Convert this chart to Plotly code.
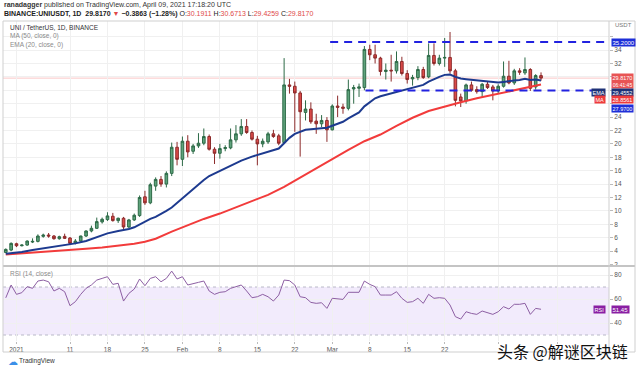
import plotly.graph_objects as go
import pandas as pd

# ---------------- data ----------------
dates = pd.date_range("2020-12-30", "2021-04-09", freq="D")

opens = [3.8, 4.15, 5.1, 4.8, 4.9, 5.35, 5.45, 6.2, 6.4, 6.25,
         5.85, 6.2, 5.95, 5.2, 5.5, 6.25, 7.0, 7.4, 8.35, 8.7,
         9.2, 8.55, 8.9, 7.6, 8.65, 9.3, 12.1, 11.2, 13.7, 14.7,
         14.0, 15.6, 19.5, 17.7, 20.4, 18.9, 19.7, 20.1, 21.1, 19.2,
         18.6, 19.3, 19.4, 20.6, 21.5, 22.6, 21.7, 20.7, 20.0, 20.3,
         21.5, 21.2, 20.2, 28.8, 28.6, 27.6, 24.7, 25.2, 23.4, 23.0,
         23.5, 22.1, 25.65, 25.5, 25.3, 28.2, 28.3, 28.4, 34.1, 33.3,
         32.8, 30.8, 31.0, 30.9, 32.3, 30.5, 29.7, 29.9, 31.1, 30.0,
         33.2, 32.0, 32.8, 32.9, 30.9, 27.0, 26.4, 28.8, 28.1, 27.8,
         28.9, 28.5, 27.9, 28.6, 30.1, 29.1, 30.9, 30.6, 31.1, 28.5,
         30.1911]
highs = [4.4, 5.3, 5.25, 5.0, 5.6, 5.9, 6.5, 6.6, 6.7, 6.4,
         6.3, 6.6, 6.1, 5.8, 6.3, 7.1, 7.8, 9.0, 9.0, 9.8,
         9.7, 9.0, 9.1, 8.8, 9.6, 12.3, 13.0, 14.2, 15.0, 15.2,
         15.9, 20.2, 20.3, 21.1, 21.3, 20.0, 21.6, 22.3, 21.4, 19.5,
         20.0, 19.8, 22.3, 22.8, 23.7, 23.7, 22.0, 21.2, 20.8, 21.8,
         22.1, 21.5, 32.8, 29.7, 29.3, 27.9, 26.5, 26.2, 24.5, 24.3,
         24.0, 25.9, 27.2, 26.0, 29.6, 28.8, 29.0, 34.6, 34.8, 34.8,
         33.0, 32.0, 33.3, 33.8, 33.0, 31.0, 30.3, 31.6, 31.5, 35.0,
         35.0, 33.3, 35.8, 36.7, 31.2, 27.5, 29.0, 29.3, 28.6, 29.1,
         29.3, 28.8, 28.9, 32.3, 32.4, 31.2, 31.3, 32.9, 31.3, 30.4,
         30.6713]
lows = [3.7, 4.0, 4.6, 4.7, 4.8, 5.2, 5.3, 6.0, 6.0, 5.7,
        5.7, 5.8, 4.9, 5.0, 5.4, 6.1, 6.8, 7.3, 8.1, 8.5,
        8.4, 8.2, 7.3, 7.4, 8.5, 9.1, 10.9, 11.0, 13.0, 13.6,
        13.5, 15.2, 16.8, 16.7, 18.0, 18.5, 19.4, 19.8, 19.0, 17.0,
        17.8, 18.9, 19.2, 20.2, 21.2, 21.5, 20.5, 16.8, 19.5, 20.0,
        20.9, 19.8, 20.0, 27.5, 21.8, 18.1, 23.5, 23.0, 21.5, 22.5,
        20.3, 22.0, 24.0, 24.5, 25.0, 26.0, 27.0, 28.0, 32.5, 32.0,
        30.2, 29.6, 29.3, 30.5, 30.2, 29.0, 28.7, 29.5, 29.7, 29.8,
        31.7, 31.7, 31.5, 30.5, 25.6, 25.5, 26.0, 27.8, 27.5, 27.0,
        28.2, 26.5, 27.6, 28.4, 28.9, 28.8, 30.3, 30.3, 27.9, 28.1,
        29.4259]
closes = [4.25, 5.15, 4.8, 4.9, 5.5, 5.45, 6.25, 6.4, 6.25, 5.85,
          6.15, 5.9, 5.15, 5.5, 6.25, 7.0, 7.4, 8.4, 8.75, 9.25,
          8.55, 8.9, 7.6, 8.65, 9.35, 12.0, 11.2, 13.9, 14.7, 14.0,
          15.6, 19.5, 17.7, 20.4, 18.8, 19.7, 20.1, 21.1, 19.2, 18.6,
          19.3, 19.45, 20.6, 21.5, 22.6, 21.7, 20.7, 20.0, 20.4, 21.5,
          21.1, 20.1, 28.8, 28.6, 27.6, 24.8, 25.2, 23.3, 23.0, 23.5,
          22.1, 25.65, 25.45, 25.3, 28.1, 28.4, 28.5, 34.1, 33.3, 32.8,
          30.8, 31.0, 30.9, 32.3, 30.5, 29.6, 29.9, 31.1, 29.9, 33.2,
          32.0, 32.8, 32.9, 30.9, 26.5, 26.4, 28.8, 28.0, 27.8, 28.9,
          28.4, 27.9, 28.6, 30.1, 29.1, 30.9, 30.7, 31.1, 28.3, 30.2033,
          29.8170]

ema_dates = ["2020-12-30", "2021-01-02", "2021-01-04", "2021-01-07", "2021-01-09",
             "2021-01-11", "2021-01-12", "2021-01-14", "2021-01-16", "2021-01-18",
             "2021-01-20", "2021-01-21", "2021-01-22", "2021-01-23", "2021-01-24",
             "2021-01-25", "2021-01-26", "2021-01-27", "2021-01-28", "2021-01-29",
             "2021-01-30", "2021-01-31", "2021-02-01", "2021-02-02", "2021-02-03",
             "2021-02-04", "2021-02-05", "2021-02-06", "2021-02-07", "2021-02-08",
             "2021-02-10", "2021-02-12", "2021-02-14", "2021-02-16", "2021-02-18",
             "2021-02-19", "2021-02-20", "2021-02-21", "2021-02-22", "2021-02-23",
             "2021-02-24", "2021-02-25", "2021-02-26", "2021-02-27", "2021-02-28",
             "2021-03-01", "2021-03-02", "2021-03-03", "2021-03-04", "2021-03-05",
             "2021-03-06", "2021-03-07", "2021-03-08", "2021-03-09", "2021-03-10",
             "2021-03-12", "2021-03-14", "2021-03-16", "2021-03-18", "2021-03-19",
             "2021-03-20", "2021-03-21", "2021-03-22", "2021-03-23", "2021-03-24",
             "2021-03-25", "2021-03-26", "2021-03-28", "2021-03-30", "2021-04-01",
             "2021-04-02", "2021-04-03", "2021-04-04", "2021-04-05", "2021-04-06",
             "2021-04-07", "2021-04-08", "2021-04-09"]
ema_vals = [3.6, 3.85, 4.15, 4.5, 4.75,
            5.0, 5.15, 5.5, 6.1, 6.65,
            7.0, 7.1, 7.3, 7.55, 8.0,
            8.4, 8.8, 9.1, 9.5, 10.0,
            10.5, 11.2, 11.9, 12.6, 13.3,
            13.9, 14.6, 15.2, 15.6, 16.0,
            16.8, 17.5, 18.1, 18.6, 19.1,
            19.3, 20.1, 20.9, 21.5, 21.8,
            22.1, 22.2, 22.3, 22.4, 22.4,
            22.7, 23.0, 23.3, 23.8, 24.3,
            24.7, 25.6, 26.2, 26.8, 27.1,
            27.5, 27.9, 28.3, 28.8, 29.3,
            29.7, 30.0, 30.3, 30.35, 30.0,
            29.75, 29.65, 29.45, 29.3, 29.15,
            29.25, 29.3, 29.45, 29.55, 29.7,
            29.55, 29.6, 29.4552]

ma_dates = ["2020-12-30", "2021-01-04", "2021-01-09", "2021-01-14", "2021-01-17",
            "2021-01-20", "2021-01-23", "2021-01-25", "2021-01-27", "2021-01-30",
            "2021-02-02", "2021-02-05", "2021-02-08", "2021-02-11", "2021-02-14",
            "2021-02-17", "2021-02-20", "2021-02-23", "2021-02-26", "2021-03-01",
            "2021-03-04", "2021-03-07", "2021-03-10", "2021-03-13", "2021-03-16",
            "2021-03-19", "2021-03-22", "2021-03-25", "2021-03-28", "2021-03-31",
            "2021-04-03", "2021-04-06", "2021-04-09"]
ma_vals = [3.5, 3.75, 4.05, 4.35, 4.55,
           4.8, 5.1, 5.4, 5.85, 6.9,
           7.9, 8.8, 9.6, 10.5, 11.5,
           12.4, 13.6, 15.0, 16.4, 17.8,
           19.1, 20.4, 21.4, 22.7, 23.9,
           24.9, 25.6, 26.2, 26.8, 27.3,
           27.8, 28.3, 28.8561]

rsi_vals = [61, 71.7, 63.9, 65.3, 70.3, 68.9, 75, 75.8, 74.4, 66.7,
            68.9, 66.1, 54.4, 57.8, 63.9, 68.9, 71.7, 75.8, 77.2, 78.6,
            72.2, 73.1, 58.3, 64.7, 68.3, 76.7, 71.1, 77.2, 78.6, 74.4,
            77.2, 83.3, 76.7, 78.6, 71.7, 73.1, 73.9, 75, 66.7, 63.9,
            65.6, 66.1, 68.9, 70.3, 71.7, 66.7, 61.1, 61.9, 63.9, 61.9,
            58.3, 63.3, 75.8, 75.3, 71.7, 61.9, 61.1, 57.2, 56.4, 56.9,
            52.2, 60.6, 60, 59.7, 65.6, 65.6, 65.6, 75, 72.2, 70.3,
            63.3, 63.3, 63.3, 66.1, 60.6, 57.2, 57.8, 60.6, 56.4, 63.9,
            60.6, 61.1, 60.6, 55, 45.3, 43.3, 49.4, 48, 47.2, 50,
            48.9, 47.2, 49.4, 53.6, 51.7, 55.6, 55.6, 56.4, 47.2, 52.2,
            51.45]

resistance = 35.2
support = 27.97
last_price = 29.817

tick_dates = ["2021-01-01", "2021-01-11", "2021-01-18", "2021-01-25", "2021-02-01",
              "2021-02-08", "2021-02-15", "2021-02-22", "2021-03-01", "2021-03-08",
              "2021-03-15", "2021-03-22", "2021-04-01", "2021-04-12"]
tick_text = ["2021", "11", "18", "25", "Feb", "8", "15", "22", "Mar", "8", "15", "22", "", ""]
price_ticks = [2, 4, 6, 8, 10, 12, 14, 16, 18, 20, 22, 24, 26, 28, 30, 32, 34, 36]
price_tick_text = ["2", "4", "6", "8", "10", "12", "14", "16", "18", "20", "22", "24",
                   "", "", "", "32", "34", ""]
rsi_ticks = [40, 60, 80]

# ---------------- geometry helpers ----------------
W, H = 640, 369
ML, MR, MT, MB = 3, 31, 21, 28
PW, PH = W - ML - MR, H - MT - MB


def px(x):
    return (x - ML) / PW


def py(y):
    return (H - MB - y) / PH


base = pd.Timestamp("2020-12-30")


def day(d):
    return base + pd.Timedelta(days=d)


FONT = "Liberation Sans, Arial, sans-serif"

fig = go.Figure()
fig.add_trace(go.Candlestick(
    x=dates, open=opens, high=highs, low=lows, close=closes,
    xaxis="x", yaxis="y",
    increasing=dict(line=dict(color="#2d6a47", width=1), fillcolor="#5fa37c"),
    decreasing=dict(line=dict(color="#8c2a2a", width=1), fillcolor="#dc4b49"),
    whiskerwidth=0, hoverinfo="skip", showlegend=False))
fig.add_trace(go.Scatter(x=ma_dates, y=ma_vals, mode="lines", xaxis="x", yaxis="y",
                         line=dict(color="#f23b3b", width=2), hoverinfo="skip", showlegend=False))
fig.add_trace(go.Scatter(x=ema_dates, y=ema_vals, mode="lines", xaxis="x", yaxis="y",
                         line=dict(color="#1d3a8f", width=2), hoverinfo="skip", showlegend=False))
fig.add_trace(go.Scatter(x=dates, y=rsi_vals, mode="lines", xaxis="x", yaxis="y2",
                         line=dict(color="#8d5fa3", width=1), hoverinfo="skip", showlegend=False))

shapes = []
# RSI band
shapes.append(dict(type="rect", xref="paper", yref="y2", x0=0, x1=1, y0=30, y1=70,
                   fillcolor="rgba(150,90,230,0.12)", line=dict(width=0), layer="below"))
for lv in (30, 70):
    shapes.append(dict(type="line", xref="paper", yref="y2", x0=0, x1=1, y0=lv, y1=lv,
                       line=dict(color="#b9b9c8", width=1, dash="dot"), layer="below"))
# last price line
shapes.append(dict(type="line", xref="paper", yref="y", x0=0, x1=1, y0=last_price, y1=last_price,
                   line=dict(color="rgba(240,90,90,0.35)", width=1), layer="below"))
# horizontal levels
shapes.append(dict(type="line", xref="x", yref="y", x0=day(60.6), x1=day(112.5),
                   y0=resistance, y1=resistance, line=dict(color="#2222e0", width=2, dash="8px,6px")))
shapes.append(dict(type="line", xref="x", yref="y", x0=day(67.2), x1=day(110.6),
                   y0=support, y1=support, line=dict(color="#2222e0", width=2, dash="8px,6px")))
# pane separator and frame
shapes.append(dict(type="line", xref="paper", yref="paper", x0=0, x1=px(635), y0=py(266), y1=py(266),
                   line=dict(color="#c4c4c4", width=2)))
shapes.append(dict(type="rect", xref="paper", yref="paper", x0=0, x1=px(635), y0=py(352), y1=py(21),
                   line=dict(color="#cfcfcf", width=1)))
shapes.append(dict(type="line", xref="paper", yref="paper", x0=px(609), x1=px(609), y0=py(352), y1=py(21),
                   line=dict(color="#cfcfcf", width=1)))

ann = []


def text(x, y, s, size=7, color="#333", anchor="left"):
    ann.append(dict(x=px(x), y=py(y), xref="paper", yref="paper", text=s, showarrow=False,
                    xanchor=anchor, yanchor="middle", font=dict(family=FONT, size=size, color=color)))


def box(x, y, s, bg, size=6, anchor="left", color="white"):
    ann.append(dict(x=px(x), y=py(y), xref="paper", yref="paper", text=s, showarrow=False,
                    xanchor=anchor, yanchor="middle", bgcolor=bg, borderpad=0.5,
                    font=dict(family=FONT, size=size, color=color)))


text(2, 5, "<b>ranadagger</b> published on TradingView.com, April 09, 2021 17:18:20 UTC", 7, "#333")
red = "#e04848"
text(2, 14, "<b>BINANCE:UNIUSDT, 1D</b>  <b>29.8170</b> <span style='color:%s'>▼</span> <b>−0.3863 (−1.28%%)</b> "
            "O:<span style='color:%s'>30.1911</span> H:<span style='color:%s'>30.6713</span> "
            "L:<span style='color:%s'>29.4259</span> C:<span style='color:%s'>29.8170</span>"
            % (red, red, red, red, red), 7, "#222")
text(8, 27, "UNI / TetherUS, 1D, BINANCE", 6.5, "#333")
text(8, 36, "MA (50, close, 0)", 6.5, "#8a8a8a")
text(8, 45, "EMA (20, close, 0)", 6.5, "#8a8a8a")
text(8, 274, "RSI (14, close)", 6.5, "#8a8a8a")
text(613, 25, "USDT", 6, "#777")

box(611, 42, "35.2000", "#1e2fd8")
box(611, 80.5, "29.8170<br><span style='font-size:5px'>06:41:45</span>", "#e85454", size=5.5)
box(606, 92, "EMA", "#1e3277", anchor="right", size=5.5)
box(611, 92, "29.4552", "#1e3277", size=5.5)
box(606, 100, "MA", "#ee3b3b", anchor="right", size=5.5)
box(611, 100, "28.8561", "#ee3b3b", size=5.5)
box(611, 108, "27.9700", "#1e2fd8", size=5.5)
box(606, 309, "RSI", "#8a1fa3", anchor="right", size=5.5)
box(611, 309, "51.45", "#8a1fa3")

text(6, 361, "☁", 10, "#3b8fe8")
text(17, 361, "TradingView", 6.5, "#333")
ann.append(dict(x=px(630), y=py(351), xref="paper", yref="paper", text="头条 @解谜区块链",
                showarrow=False, xanchor="right", yanchor="middle",
                font=dict(family="Noto Sans CJK SC", size=16, color="#111")))

axis_font = dict(family=FONT, size=6.5, color="#555")
fig.update_layout(
    width=W, height=H, autosize=False,
    margin=dict(l=ML, r=MR, t=MT, b=MB),
    paper_bgcolor="white", plot_bgcolor="white",
    showlegend=False,
    shapes=shapes, annotations=ann,
    xaxis=dict(type="date", domain=[0, 1], anchor="y2",
               range=[day(-0.52), day(112.7)],
               rangeslider=dict(visible=False),
               tickvals=tick_dates, ticktext=tick_text,
               tickfont=axis_font, ticks="outside", ticklen=2, tickcolor="#bbb",
               showgrid=True, gridcolor="#f0f0f0", gridwidth=1,
               showline=False, zeroline=False),
    yaxis=dict(domain=[py(265), 1], range=[1.925, 38.34], side="right", anchor="x",
               tickvals=price_ticks, ticktext=price_tick_text, tickfont=axis_font,
               ticks="outside", ticklen=3,
               tickcolor="#bbb", showgrid=True, gridcolor="#f0f0f0", zeroline=False,
               showline=False),
    yaxis2=dict(domain=[0, py(267)], range=[25, 86.7], side="right", anchor="x",
                tickvals=rsi_ticks, tickfont=axis_font, ticks="outside", ticklen=3,
                tickcolor="#bbb", showgrid=True, gridcolor="#f0f0f0", zeroline=False,
                showline=False),
)

fig.write_html("out.html", config={"displayModeBar": False},
               post_script="document.body.style.margin='0';document.body.style.overflow='hidden';")
